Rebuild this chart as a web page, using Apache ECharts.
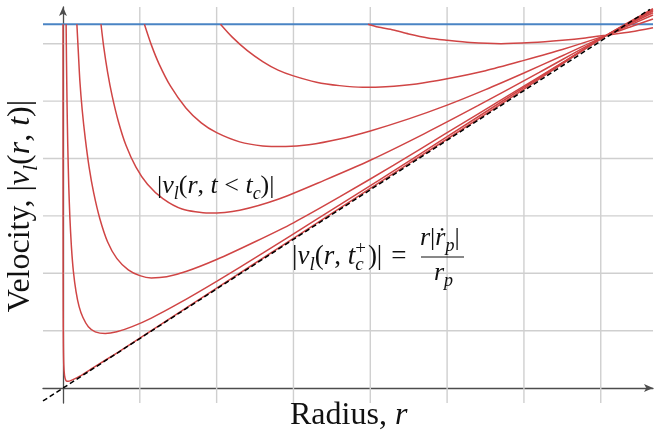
<!DOCTYPE html>
<html>
<head>
<meta charset="utf-8">
<style>
  html, body { margin: 0; padding: 0; background: #ffffff; }
  #chart { width: 656px; height: 439px; }
</style>
<script src="https://cdn.jsdelivr.net/npm/echarts@6/dist/echarts.min.js"></script>
</head>
<body>
<div id="chart"></div>
<script>
// Axis extents (in grid units) and the grid positions.
const xRange = [-0.26, 7.68];
const yRange = [-0.26, 6.64];
const gridX = [1, 2, 3, 4, 5, 6, 7];
const gridY = [1, 2, 3, 4, 5, 6];

// Upper velocity bound (blue horizontal line).
const velocityCap = 6.34;

// |v_l(r, t_c+)| = r|rp'|/rp : straight line through the origin.
const criticalLine = [[-0.26, -0.225], [7.64, 6.6]];

// |v_l(r, t < t_c)| profiles, from the latest time (A) back to the earliest (G).
const curveA = [[0.0006, 6.34], [0.0008, 5.0], [0.001, 4.0], [0.0015, 2.67], [0.002, 2.0], [0.003, 1.34],
  [0.005, 0.8], [0.01, 0.41], [0.02, 0.22], [0.035, 0.14], [0.05, 0.12], [0.07, 0.12], [0.1, 0.13],
  [0.15, 0.16], [0.25, 0.23], [0.4, 0.36], [0.7, 0.61], [1.0, 0.87], [2.0, 1.74], [3.0, 2.61],
  [4.0, 3.48], [5.0, 4.34], [6.0, 5.21], [7.08, 6.15], [7.68, 6.61]];
const curveB = [[0.041, 6.34], [0.046, 5.69], [0.053, 4.95], [0.062, 4.25], [0.075, 3.53], [0.09, 2.97],
  [0.11, 2.46], [0.135, 2.04], [0.17, 1.68], [0.21, 1.42], [0.26, 1.23], [0.33, 1.07], [0.42, 0.98],
  [0.55, 0.95], [0.7, 0.98], [0.9, 1.07], [1.15, 1.22], [1.5, 1.47], [2.0, 1.86], [2.6, 2.35],
  [3.3, 2.94], [4.1, 3.61], [5.0, 4.38], [6.0, 5.24], [7.08, 6.15], [7.68, 6.59]];
const curveC = [[0.181, 6.34], [0.2, 5.85], [0.22, 5.35], [0.25, 4.85], [0.29, 4.35], [0.34, 3.85],
  [0.4, 3.4], [0.48, 2.95], [0.58, 2.55], [0.7, 2.26], [0.85, 2.06], [1.0, 1.96], [1.15, 1.92],
  [1.35, 1.94], [1.6, 2.03], [2.0, 2.24], [2.5, 2.55], [3.0, 2.88], [3.6, 3.33], [4.3, 3.88],
  [5.0, 4.45], [5.8, 5.1], [6.5, 5.67], [7.08, 6.15], [7.68, 6.57]];
const curveD = [[0.495, 6.34], [0.53, 5.95], [0.58, 5.51], [0.64, 5.09], [0.72, 4.65], [0.82, 4.23],
  [0.95, 3.85], [1.1, 3.55], [1.3, 3.3], [1.55, 3.12], [1.9, 3.05], [2.3, 3.1], [2.8, 3.29],
  [3.4, 3.62], [4.0, 3.97], [4.7, 4.43], [5.4, 4.92], [6.2, 5.5], [7.08, 6.15], [7.68, 6.54]];
const curveE = [[1.06, 6.34], [1.15, 5.98], [1.25, 5.65], [1.4, 5.26], [1.6, 4.88], [1.8, 4.62],
  [2.0, 4.45], [2.3, 4.29], [2.6, 4.22], [2.9, 4.21], [3.2, 4.24], [3.6, 4.34], [4.0, 4.48],
  [4.5, 4.69], [5.0, 4.93], [5.5, 5.2], [6.0, 5.49], [6.5, 5.79], [7.08, 6.15], [7.68, 6.5]];
const curveF = [[2.05, 6.34], [2.2, 6.12], [2.4, 5.88], [2.6, 5.69], [2.8, 5.54], [3.0, 5.44],
  [3.3, 5.33], [3.6, 5.27], [3.9, 5.24], [4.2, 5.25], [4.6, 5.3], [5.0, 5.39], [5.5, 5.53],
  [6.0, 5.71], [6.5, 5.9], [7.08, 6.15], [7.4, 6.3], [7.68, 6.43]];
const curveG = [[3.97, 6.34], [4.1, 6.29], [4.3, 6.24], [4.5, 6.17], [4.75, 6.1], [5.0, 6.06],
  [5.3, 6.02], [5.7, 6.0], [6.1, 6.02], [6.5, 6.06], [6.8, 6.1], [7.08, 6.15], [7.4, 6.21], [7.68, 6.28]];

const profiles = [curveA, curveB, curveC, curveD, curveE, curveF, curveG];

const SERIF = "'Liberation Serif', 'DejaVu Serif', serif";
const INK = '#111111';
const RED = '#d04545';
const BLUE = '#4a84c4';
const GRID = '#cfcfcf';
const AXIS = '#4d4d4d';

// Rich-text styles for inline math: roman, italic, subscript, superscript.
function mathRich(size) {
  const sub = Math.round(size * 0.7);
  return {
    n: { fontFamily: SERIF, fontSize: size, fill: INK },
    i: { fontFamily: SERIF, fontSize: size, fontStyle: 'italic', fill: INK },
    s: { fontFamily: SERIF, fontSize: sub, fontStyle: 'italic', fill: INK, verticalAlign: 'bottom' },
    s0: { fontFamily: SERIF, fontSize: sub, fontStyle: 'italic', fill: INK, verticalAlign: 'bottom', width: 0 },
    u: { fontFamily: SERIF, fontSize: sub, fill: INK, verticalAlign: 'top', padding: [0, 2, 0, 0] },
    eq: { fontFamily: SERIF, fontSize: size, fill: INK, padding: [0, 0, 0, 9] }
  };
}

function mathText(x, y, text, size) {
  return {
    type: 'text',
    x: x,
    y: y,
    z: 20,
    style: {
      text: text,
      rich: mathRich(size),
      lineHeight: Math.round(size * 1.3),
      align: 'left',
      verticalAlign: 'middle',
      fill: INK
    }
  };
}

const series = [];

// Grid lines, drawn past the axes to the plot edges.
gridX.forEach(function (v) {
  series.push({ type: 'line', data: [[v, yRange[0]], [v, yRange[1]]], showSymbol: false, silent: true,
    lineStyle: { color: GRID, width: 1.4 }, z: 1, animation: false });
});
gridY.forEach(function (v) {
  series.push({ type: 'line', data: [[xRange[0], v], [xRange[1], v]], showSymbol: false, silent: true,
    lineStyle: { color: GRID, width: 1.4 }, z: 1, animation: false });
});

// Velocity bound.
series.push({ type: 'line', data: [[xRange[0], velocityCap], [xRange[1], velocityCap]], showSymbol: false,
  silent: true, lineStyle: { color: BLUE, width: 2 }, z: 3, animation: false });

// Velocity profiles before collapse.
profiles.forEach(function (p) {
  series.push({ type: 'line', data: p, showSymbol: false, smooth: 0.25, silent: true,
    lineStyle: { color: RED, width: 1.5 }, z: 4, animation: false });
});

// Linear profile right after collapse.
series.push({ type: 'line', data: criticalLine, showSymbol: false, silent: true,
  lineStyle: { color: '#000000', width: 1.5, type: [5, 3] }, z: 5, animation: false });

const axisCommon = {
  type: 'value',
  axisTick: { show: false },
  axisLabel: { show: false },
  splitLine: { show: false },
  axisLine: {
    show: true,
    onZero: true,
    symbol: ['none', 'arrow'],
    symbolSize: [6, 9],
    lineStyle: { color: AXIS, width: 1.3 }
  }
};

// y-axis title, rotated to read bottom to top
const yTitle = mathText(21, 206, '{n|Velocity, |}{i|v}{s|l}{n|(}{i|r}{n|, }{i|t}{n|)|}', 32);
yTitle.rotation = Math.PI / 2;
yTitle.style.align = 'center';

const option = {
  animation: false,
  backgroundColor: '#ffffff',
  grid: { left: 43, right: 3, top: 7, bottom: 36, containLabel: false },
  xAxis: Object.assign({}, axisCommon, { min: xRange[0], max: xRange[1] }),
  yAxis: Object.assign({}, axisCommon, { min: yRange[0], max: yRange[1] }),
  series: series,
  graphic: [
    yTitle,
    // x-axis title
    mathText(290, 416, '{n|Radius, }{i|r}', 32),
    // profile label before collapse
    mathText(157, 186, '{n||}{i|v}{s|l}{n|(}{i|r}{n|, }{i|t}{n| < }{i|t}{s|c}{n|)|}', 26),
    // linear profile label
    mathText(292, 257, '{n||}{i|v}{s|l}{n|(}{i|r}{n|, }{i|t}{s0|c}{u|+}{n|)|}{eq|=}', 27),
    mathText(420, 238.5, '{i|r}{n||}{i|ṙ}{s|p}{n||}', 26),
    mathText(434, 273, '{i|r}{s|p}', 26),
    {
      type: 'line', z: 20,
      shape: { x1: 421, y1: 257, x2: 464, y2: 257 },
      style: { stroke: INK, lineWidth: 1 }
    }
  ]
};

const chart = echarts.init(document.getElementById('chart'), null, { renderer: 'canvas' });
chart.setOption(option);
</script>
</body>
</html>
